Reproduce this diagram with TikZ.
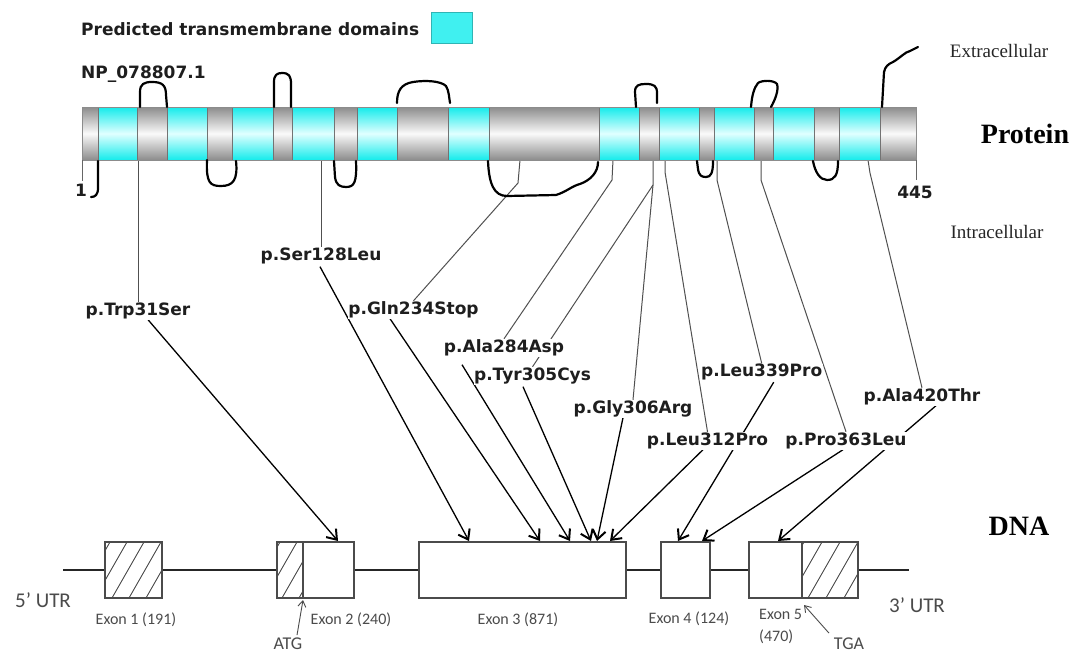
\documentclass[tikz,border=0pt]{standalone}
\usepackage{fontspec}
\setmainfont{Liberation Serif}
\newfontfamily\dvs{DejaVu Sans}
\newfontfamily\carl{Carlito}
\usetikzlibrary{arrows.meta,calc}
\pgfdeclarelayer{bg}
\pgfdeclarelayer{paper}
\pgfsetlayers{paper,bg,main}
\definecolor{tmcyan}{RGB}{20,235,235}
\definecolor{tmcyanlight}{RGB}{225,255,255}
\definecolor{segdark}{RGB}{140,140,140}
\definecolor{seglight}{RGB}{250,250,250}
\definecolor{linkgray}{RGB}{80,80,80}
\definecolor{labtext}{RGB}{30,30,30}
\definecolor{exongray}{RGB}{75,75,75}
\definecolor{legcyan}{RGB}{64,240,240}
\tikzset{
  mut/.style={font=\dvs\bfseries\fontsize{17}{19}\selectfont, text=labtext, fill=white, inner sep=0.5pt, text height=12.5pt, text depth=4pt},
  legfont/.style={font=\dvs\bfseries\fontsize{17}{19}\selectfont, text=labtext, inner sep=0pt},
  plink/.style={draw=linkgray, line width=1pt},
  darr/.style={draw=black, line width=1.3pt, -{Straight Barb[length=9pt,width=13pt,line width=2pt]}},
  loopline/.style={draw=black, line width=2.2pt, line cap=round, line join=round},
  graysh/.style={top color=segdark, bottom color=segdark, middle color=seglight},
  cyansh/.style={top color=tmcyan, bottom color=tmcyan, middle color=tmcyanlight},
  segline/.style={draw=black!55, line width=0.6pt},
  baredge/.style={draw=black!45, line width=0.7pt},
  exon/.style={draw=exongray, line width=1.3pt, fill=white, minimum height=56pt, inner sep=0pt},
  exedge/.style={draw=exongray, line width=1.3pt},
  backbone/.style={draw=black!85, line width=2.6pt},
  exlab/.style={font=\carl\fontsize{16}{22}\selectfont, text=exongray, inner sep=0pt},
  utr/.style={font=\carl\fontsize{21}{23}\selectfont, text=exongray, inner sep=0pt},
  codon/.style={font=\carl\fontsize{18}{20}\selectfont, text=exongray, inner sep=0pt},
  sarr/.style={draw=exongray, line width=0.9pt, -{Straight Barb[length=6pt,width=8pt]}},
  hatch/.style={draw=exongray, line width=0.9pt},
  serifl/.style={font=\fontsize{19}{21}\selectfont, text=black!85, inner sep=0pt},
  serifb/.style={font=\bfseries\fontsize{28}{30}\selectfont, text=black, inner sep=0pt},
  tick/.style={draw=black!60, line width=0.8pt},
}
\begin{document}
\begin{tikzpicture}[x=1pt,y=-1pt]
\useasboundingbox (0,0) rectangle (1071,653);
\begin{pgfonlayer}{paper}
\fill[white] (0,0) rectangle (1071,653);
\end{pgfonlayer}

% legend
\node[legfont, anchor=base west] (legtxt) at (81,35) {Predicted transmembrane domains};
\node[draw=legcyan!75!black, line width=0.6pt, fill=legcyan, minimum width=41pt, minimum height=31pt, inner sep=0pt] (legbox) at (451.5,27.5) {};
\node[legfont, anchor=base west] (np) at (81,78) {NP\_078807.1};

% side labels
\node[serifl, anchor=base] (extra) at (999,57) {Extracellular};
\node[serifl, anchor=base] (intra) at (997,238) {Intracellular};
\node[serifb, anchor=base] (prot) at (1025,143) {Protein};
\node[serifb, anchor=base] (dna) at (1019,535) {DNA};

% protein bar
\foreach \a/\b [count=\i] in {82/98,98/137,137/167,167/207,207/232,232/273,273/292,292/334,334/357,357/397,397/448,448/489,489/599,599/639,639/659,659/699,699/714,714/754,754/773,773/814,814/839,839/880,880/916}{
  \ifodd\i\relax
    \shade[graysh] (\a,107) rectangle (\b,160);
  \else
    \shade[cyansh] (\a,107) rectangle (\b,160);
  \fi
}
\foreach \a in {98,137,167,207,232,273,292,334,357,397,448,489,599,639,659,699,714,754,773,814,839,880}
  \draw[segline] (\a,107) -- (\a,160);
\draw[baredge] (82,107) rectangle (916,160);

% ends
\draw[tick] (82,160) -- (82,181);
\draw[tick] (916,160) -- (916,180);
\node[legfont, anchor=base] (n1) at (81,196) {1};
\node[legfont, anchor=base] (n445) at (915,198) {445};

% loops
\draw[loopline] (140,107) -- (140,92) .. controls (140,84) and (144,82) .. (152,82) .. controls (162,82) and (166,85) .. (166,95) -- (167,107);
\draw[loopline] (98,161) -- (98,188) .. controls (98,195) and (95,197) .. (91,197);
\draw[loopline] (207,160) .. controls (206,183) and (210,186) .. (221,186) .. controls (233,186) and (238,180) .. (236,161);
\draw[loopline] (274,107) -- (274,82) .. controls (274,75) and (277,73) .. (282,73) .. controls (289,73) and (291,76) .. (291,84) -- (291,107);
\draw[loopline] (334,161) -- (335,177) .. controls (336,185) and (340,187) .. (346,187) .. controls (354,187) and (357,183) .. (356,161);
\draw[loopline] (397,103) .. controls (397,91) and (401,84) .. (413,82) .. controls (426,80) and (441,81) .. (446,86) .. controls (449,91) and (449,97) .. (450,103);
\draw[loopline] (488,161) .. controls (489,184) and (494,196) .. (507,196) -- (556,195) .. controls (566,192) and (572,186) .. (580,184) .. controls (591,180) and (598,172) .. (598,162);
\draw[loopline] (636,107) -- (635,92) .. controls (635,85) and (639,84) .. (646,84) .. controls (654,84) and (657,86) .. (657,93) -- (657,103);
\draw[loopline] (697,161) -- (698,169) .. controls (699,176) and (702,177) .. (706,177) .. controls (711,177) and (713,173) .. (713,161);
\draw[loopline] (751,107) .. controls (752,95) and (754,88) .. (758,83) .. controls (762,80) and (774,80) .. (777,84) .. controls (779,90) and (775,100) .. (771,107);
\draw[loopline] (813,161) .. controls (815,172) and (820,180) .. (827,180) .. controls (835,180) and (838,175) .. (838,161);
\draw[loopline] (882,107) -- (884,72) .. controls (885,67) and (888,64) .. (893,62) .. controls (900,58) and (905,52) .. (910,51) -- (918,47);

% mutation labels
\node[mut, anchor=base] (mTrp) at (138,315) {p.Trp31Ser};
\node[mut, anchor=base] (mSer) at (321,260) {p.Ser128Leu};
\node[mut, anchor=base] (mGln) at (413.5,314) {p.Gln234Stop};
\node[mut, anchor=base] (mAla) at (504,352) {p.Ala284Asp};
\node[mut, anchor=base] (mTyr) at (532.5,380) {p.Tyr305Cys};
\node[mut, anchor=base] (mGly) at (633,413) {p.Gly306Arg};
\node[mut, anchor=base] (mLa) at (707.5,445) {p.Leu312Pro};
\node[mut, anchor=base] (mLb) at (761.7,376.5) {p.Leu339Pro};
\node[mut, anchor=base] (mPro) at (846,445) {p.Pro363Leu};
\node[mut, anchor=base] (mAt) at (922,401) {p.Ala420Thr};

% positions on the protein
\coordinate (s1) at (138,160);
\coordinate (s2) at (321,160);
\coordinate (s3) at (520,160);
\coordinate (s4) at (613,160);
\coordinate (s5) at (653,160);
\coordinate (s7) at (665,160);
\coordinate (s8) at (717,160);
\coordinate (s9) at (761,160);
\coordinate (s10) at (868,160);

% exons
\node[exon, minimum width=57pt] (ex1) at (133.5,570) {};
\node[exon, minimum width=77pt] (ex2) at (315.5,570) {};
\node[exon, minimum width=207pt] (ex3) at (522.5,570) {};
\node[exon, minimum width=49pt] (ex4) at (685.5,570) {};
\node[exon, minimum width=109pt] (ex5) at (803.5,570) {};

% hatching
\begin{scope}
  \clip (105,542) rectangle (162,598);
  \foreach \k in {78,95,112,129,146} \draw[hatch] (\k,598) -- ++(32,-56);
\end{scope}
\begin{scope}
  \clip (277,542) rectangle (303,598);
  \foreach \k in {248,265,282,299} \draw[hatch] (\k,598) -- ++(32,-56);
\end{scope}
\begin{scope}
  \clip (802,542) rectangle (858,598);
  \foreach \k in {772,790,808,826,844} \draw[hatch] (\k,598) -- ++(32,-56);
\end{scope}
\draw[exedge] (ex1.south west) rectangle (ex1.north east);
\draw[exedge] (ex2.south west) rectangle (ex2.north east);
\draw[exedge] (ex5.south west) rectangle (ex5.north east);
\draw[exedge] (303,542) -- (303,598);
\draw[exedge] (802,542) -- (802,598);

% DNA labels
\coordinate (dnaL) at (63,570);
\coordinate (dnaR) at (909,570);
\node[utr] (utr5) at (43,600) {5’ UTR};
\node[utr] (utr3) at (917,605) {3’ UTR};
\node[exlab] (lx1) at (136,620) {Exon 1 (191)};
\node[exlab] (lx2) at (351,620) {Exon 2 (240)};
\node[exlab] (lx3) at (518,620) {Exon 3 (871)};
\node[exlab] (lx4) at (689,619) {Exon 4 (124)};
\node[exlab, align=left, anchor=north west] (lx5) at (759,609) {Exon 5\\(470)};
\node[codon, anchor=base] (atg) at (288,649) {ATG};
\node[codon, anchor=base] (tga) at (849,649) {TGA};
\coordinate (atgTip) at (303,600);
\coordinate (tgaTip) at (804,605);
\draw[sarr] (atg.north) ++(9,-2) -- (atgTip);
\draw[sarr] (tga.north) ++(-20,-4) -- (tgaTip);

% arrow tips on exons
\coordinate (t1) at (338,541);
\coordinate (t2) at (469,541);
\coordinate (t3) at (540,541);
\coordinate (t4) at (570,541);
\coordinate (t5) at (591,541);
\coordinate (t6) at (597,541);
\coordinate (t7) at (610,541);
\coordinate (t8) at (678,541);
\coordinate (t9) at (702,541);
\coordinate (t10) at (778,541);

\begin{pgfonlayer}{bg}
  % backbone
  \draw[backbone] (dnaL) -- (ex1.west);
  \draw[backbone] (ex1.east) -- (ex2.west);
  \draw[backbone] (ex2.east) -- (ex3.west);
  \draw[backbone] (ex3.east) -- (ex4.west);
  \draw[backbone] (ex4.east) -- (ex5.west);
  \draw[backbone] (ex5.east) -- (dnaR);
  % protein to labels
  \draw[plink] (s1) -- (mTrp.north);
  \draw[plink] (s2) -- (mSer.north);
  \draw[plink] (s3) -- (518,183) -- (mGln.north);
  \draw[plink] (s4) -- (612,180) -- (mAla.north);
  \draw[plink] (s5) -- (653,185) -- (mTyr.north);
  \draw[plink] (653,185) -- (mGly.north);
  \draw[plink] (s7) -- (665,172) -- (mLa.north);
  \draw[plink] (s8) -- (717,180) -- (mLb.north);
  \draw[plink] (s9) -- (761,180) -- (mPro.north);
  \draw[plink] (s10) -- (870,173) -- (mAt.north);
  % labels to exons
  \draw[darr] ($(mTrp.south)+(10,0)$) -- (t1);
  \draw[darr] ($(mSer.south)+(-1,2)$) -- (t2);
  \draw[darr] ($(mGln.south)+(-23.5,0)$) -- (t3);
  \draw[darr] ($(mAla.south)+(-42,8)$) -- (t4);
  \draw[darr] ($(mTyr.south)+(-9.5,2)$) -- (t5);
  \draw[darr] ($(mGly.south)+(-10,0)$) -- (t6);
  \draw[darr] ($(mLa.south)+(-4.5,0)$) -- (t7);
  \draw[darr] ($(mLb.south)+(12,1)$) -- (t8);
  \draw[darr] ($(mPro.south)+(-3,0)$) -- (t9);
  \draw[darr] ($(mAt.south)+(14,0)$) -- (t10);
\end{pgfonlayer}
\end{tikzpicture}
\end{document}
